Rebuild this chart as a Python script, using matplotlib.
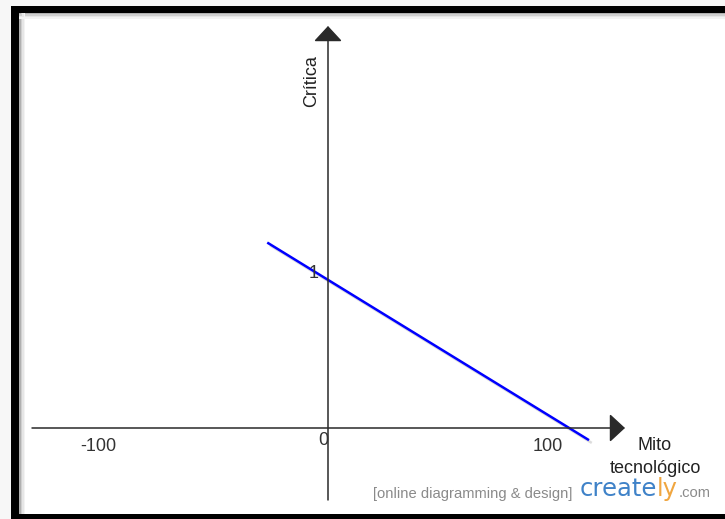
"""
Crítica vs Mito tecnológico line chart (creately style screenshot).
"""

import matplotlib
matplotlib.use("Agg")
import matplotlib.pyplot as plt
from matplotlib.patches import Rectangle
import matplotlib.patheffects as pe

# data
line_x = [-27, 116]
line_y = [1.22, -0.08]
x_tick_vals = [-100, 0, 100]
x_tick_labels = ['-100', '0', '100']
y_tick_vals = [1]
y_tick_labels = ['1']
x_title = 'Mito\ntecnológico'
y_title = 'Crítica'

W, H = 725, 519
plt.rcParams['font.family'] = ['Liberation Sans', 'DejaVu Sans']
FS = 13

fig = plt.figure(figsize=(W / 100, H / 100), dpi=100, facecolor='#f7f7f7')

# inner white panel of the frame, in pixels
left_px, right_px, top_px, bottom_px = 19, 725, 13, 514
ax = fig.add_axes([left_px / W, 1 - bottom_px / H,
                   (right_px - left_px) / W, (bottom_px - top_px) / H])
ax.set_facecolor('white')
for s in ax.spines.values():
    s.set_visible(False)
ax.set_xticks([])
ax.set_yticks([])

# pixel -> data mapping (origin at 328,428; 2.25 px per x unit, 152 px per y unit)
ox, oy, sx, sy = 328, 428, 2.25, 152
ax.set_xlim((left_px - ox) / sx, (right_px - ox) / sx)
ax.set_ylim((oy - bottom_px) / sy, (oy - top_px) / sy)

shadow = [pe.SimpleLineShadow(offset=(2, -2), shadow_color='#bbbbbb', alpha=0.5), pe.Normal()]
arrow_kw = dict(arrowstyle='-|>,head_length=0.4,head_width=0.37', mutation_scale=24,
                color='#2a2a2a', lw=1.1, shrinkA=0, shrinkB=0)

# horizontal axis with arrow
ax.annotate('', xy=((625 - ox) / sx, 0), xytext=((32 - ox) / sx, 0),
            arrowprops=arrow_kw)
# vertical axis with arrow
ax.annotate('', xy=(0, (oy - 26) / sy), xytext=(0, (oy - 500) / sy),
            arrowprops=arrow_kw)

# the line
ax.plot(line_x, line_y, color='#0000ff', lw=1.8, solid_capstyle='butt', path_effects=shadow)

# tick labels (the zero label sits closer to the axis)
for v, lab in zip(x_tick_vals, x_tick_labels):
    dy = -3 if v == 0 else -7
    ax.annotate(lab, xy=(v, 0), xytext=(-3.5, dy), textcoords='offset points',
                ha='center', va='top', fontsize=FS, color='#333333')
for v, lab in zip(y_tick_vals, y_tick_labels):
    ax.annotate(lab, xy=(0, v), xytext=(-6.5, 2), textcoords='offset points',
                ha='right', va='center', fontsize=FS, color='#333333')

# axis titles
ax.text((312 - ox) / sx, (oy - 81) / sy, y_title, rotation=90, ha='center', va='center',
        fontsize=FS, color='#222222')
ax.text((655 - ox) / sx, (oy - 457) / sy, x_title, ha='center', va='center',
        fontsize=FS, color='#222222', linespacing=1.42)

# watermark
t1 = fig.text(373 / W, 1 - 498 / H, '[online diagramming & design]', ha='left', va='baseline',
              fontsize=10.6, color='#8a8a8a')
logo = dict(fontsize=17.5, family='DejaVu Sans', ha='left', va='bottom', annotation_clip=False)
t2 = ax.annotate('create', xy=(1, 0), xycoords=t1, xytext=(5, 0), textcoords='offset points',
                 color='#3f82c8', **logo)
t3 = ax.annotate('ly', xy=(1, 0), xycoords=t2, color='#f0a640', **logo)
ax.annotate('.com', xy=(1, 0), xycoords=t3, xytext=(1, 1), textcoords='offset points',
            ha='left', va='bottom', fontsize=10.6, color='#8a8a8a', annotation_clip=False)

# soft inner shadow along the left and top of the frame
for i, c in enumerate(['#b0b0b0', '#cfcfcf', '#e6e6e6', '#f3f3f3']):
    fig.add_artist(Rectangle(((19 + i * 1.5) / W, 1 - 514 / H), 1.5 / W, 501 / H,
                             transform=fig.transFigure, facecolor=c, edgecolor='none'))
    fig.add_artist(Rectangle((19 / W, 1 - (13 + (i + 1) * 1.5) / H), (W - 19) / W, 1.5 / H,
                             transform=fig.transFigure, facecolor=c, edgecolor='none'))

# black frame bands
for x0, y0, w, h in [(11, 6, W - 11, 7), (11, 6, 8, H - 6), (11, 514, W - 11, 5)]:
    fig.add_artist(Rectangle((x0 / W, 1 - (y0 + h) / H), w / W, h / H,
                             transform=fig.transFigure, facecolor='black', edgecolor='none'))

fig.savefig('out.png', dpi=100, facecolor=fig.get_facecolor())
